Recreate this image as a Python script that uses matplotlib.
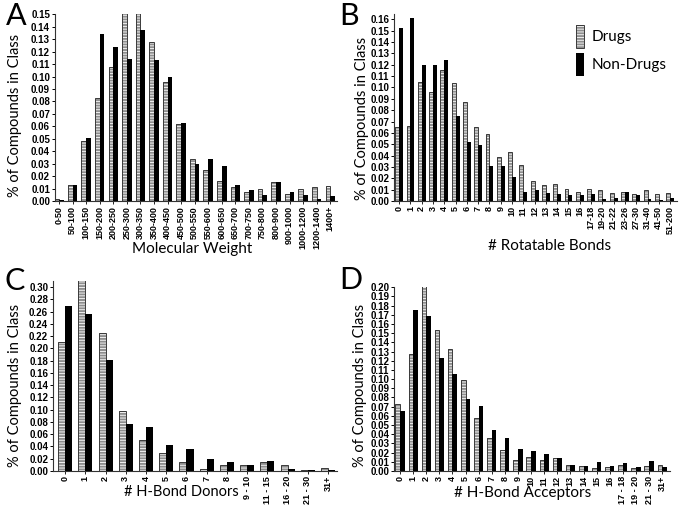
import numpy as np
import matplotlib
matplotlib.use("Agg")
import matplotlib.pyplot as plt

# ---- data (fraction of compounds per class) ----
mw_cats = ["0-50", "50-100", "100-150", "150-200", "200-250", "250-300", "300-350",
           "350-400", "400-450", "450-500", "500-550", "550-600", "600-650", "650-700",
           "700-750", "750-800", "800-900", "900-1000", "1000-1200", "1200-1400", "1400+"]
mw_drugs = [0.002, 0.013, 0.048, 0.083, 0.108, 0.160, 0.158, 0.128, 0.096, 0.062, 0.034,
            0.025, 0.016, 0.011, 0.007, 0.010, 0.015, 0.006, 0.010, 0.011, 0.012]
mw_nondrugs = [0.001, 0.013, 0.051, 0.134, 0.124, 0.114, 0.137, 0.113, 0.100, 0.063, 0.030,
               0.034, 0.028, 0.013, 0.009, 0.005, 0.015, 0.007, 0.005, 0.002, 0.004]

rb_cats = [str(i) for i in range(17)] + ["17-18", "19-20", "21-22", "23-26", "27-30",
                                         "31-40", "41-50", "51-200"]
rb_drugs = [0.065, 0.066, 0.105, 0.096, 0.115, 0.104, 0.087, 0.065, 0.059, 0.039, 0.043,
            0.032, 0.018, 0.014, 0.015, 0.011, 0.008, 0.011, 0.010, 0.007, 0.008, 0.006,
            0.010, 0.006, 0.007]
rb_nondrugs = [0.152, 0.161, 0.120, 0.120, 0.124, 0.075, 0.052, 0.049, 0.031, 0.031, 0.021,
               0.008, 0.010, 0.007, 0.006, 0.005, 0.005, 0.006, 0.002, 0.003, 0.008, 0.005,
               0.002, 0.001, 0.003]

hbd_cats = [str(i) for i in range(9)] + ["9 - 10", "11 - 15", "16 - 20", "21 - 30", "31+"]
hbd_drugs = [0.210, 0.330, 0.226, 0.098, 0.050, 0.029, 0.015, 0.004, 0.010, 0.009, 0.014,
             0.010, 0.002, 0.005]
hbd_nondrugs = [0.270, 0.257, 0.181, 0.077, 0.071, 0.043, 0.036, 0.019, 0.015, 0.010, 0.016,
                0.003, 0.002, 0.001]

hba_cats = [str(i) for i in range(17)] + ["17 - 18", "19 - 20", "21 - 30", "31+"]
hba_drugs = [0.073, 0.127, 0.205, 0.153, 0.133, 0.099, 0.058, 0.036, 0.023, 0.012, 0.015,
             0.012, 0.014, 0.006, 0.005, 0.003, 0.004, 0.006, 0.003, 0.005, 0.007]
hba_nondrugs = [0.065, 0.175, 0.169, 0.123, 0.106, 0.078, 0.071, 0.045, 0.036, 0.024, 0.022,
                0.018, 0.014, 0.007, 0.005, 0.010, 0.005, 0.009, 0.004, 0.011, 0.004]

plt.rcParams['hatch.linewidth'] = 0.6
LABEL_FONT = ['Lato', 'DejaVu Sans']
TICK_FONT = ['Liberation Sans', 'DejaVu Sans']

fig = plt.figure(figsize=(6.83, 5.09), dpi=100)


def panel(rect, cats, drugs, nondrugs, ymax, yticks, xlim):
    ax = fig.add_axes(rect)
    x = np.arange(len(cats))
    w = 0.35
    # drugs: grey bar with white horizontal stripes, dark outline
    b1 = ax.bar(x - w / 2, drugs, w, facecolor='#8e8e8e', edgecolor='white',
                hatch='------', linewidth=0)
    b2 = ax.bar(x - w / 2, drugs, w, fill=False, edgecolor='#3a3a3a', linewidth=0.7)
    b3 = ax.bar(x + w / 2, nondrugs, w, color='black', linewidth=0)
    ax.set_ylim(0, ymax)
    ax.set_xlim(*xlim)
    ax.set_yticks(yticks)
    ax.yaxis.set_major_formatter(matplotlib.ticker.FormatStrFormatter('%.2f'))
    ax.set_xticks(x)
    ax.set_xticklabels(cats, rotation=90)
    for sp in ('top', 'right'):
        ax.spines[sp].set_visible(False)
    for sp in ('left', 'bottom'):
        ax.spines[sp].set_linewidth(0.8)
        ax.spines[sp].set_color('#333333')
    ax.tick_params(axis='y', length=2.5, width=0.7, pad=1, labelsize=7)
    ax.tick_params(axis='x', length=2, width=0.6, pad=1.5, labelsize=6.5)
    for t in ax.get_xticklabels() + ax.get_yticklabels():
        t.set_fontfamily(TICK_FONT)
        t.set_fontweight('bold')
    return ax, (b1[0], b2[0]), b3[0]


axA, _, _ = panel([0.0805, 0.605, 0.413, 0.367], mw_cats, mw_drugs, mw_nondrugs,
                  0.15, np.arange(0, 0.1501, 0.01), (-0.3, 20.5))
axB, hd, hn = panel([0.577, 0.605, 0.414, 0.367], rb_cats, rb_drugs, rb_nondrugs,
                    0.1645, np.arange(0, 0.1601, 0.01), (-0.45, 24.6))
axC, _, _ = panel([0.0776, 0.0747, 0.416, 0.373], hbd_cats, hbd_drugs, hbd_nondrugs,
                  0.31, np.arange(0, 0.3001, 0.02), (-0.6, 13.45))
axD, _, _ = panel([0.577, 0.0747, 0.404, 0.361], hba_cats, hba_drugs, hba_nondrugs,
                  0.20, np.arange(0, 0.2001, 0.01), (-0.45, 20.6))

W, H = 683.0, 509.0


def ftext(px, py, s, **kw):
    fig.text(px / W, 1 - py / H, s, ha='center', va='center', family=LABEL_FONT, **kw)


# y labels
for px, py in [(15, 115), (362, 118), (15, 385), (360, 385)]:
    ftext(px, py, "% of Compounds in Class", rotation=90, fontsize=10.5)
# x labels
ftext(192, 249, "Molecular Weight", fontsize=11)
ftext(550, 246, "# Rotatable Bonds", fontsize=11)
ftext(181, 492, "# H-Bond Donors", fontsize=10.5)
ftext(523, 493, "# H-Bond Acceptors", fontsize=11)
# panel letters
for px, py, s in [(16, 16, "A"), (349, 16, "B"), (15, 281, "C"), (351, 280, "D")]:
    ftext(px, py, s, fontsize=22)

axB.legend([hd, hn], ["Drugs", "Non-Drugs"], loc='upper left',
           bbox_to_anchor=(576 / W, 1 - 25 / H), bbox_transform=fig.transFigure,
           frameon=False, handlelength=0.55, handleheight=1.9, handletextpad=0.5,
           labelspacing=0.35, borderpad=0, borderaxespad=0,
           prop={'family': LABEL_FONT, 'size': 11})

fig.savefig("out.png", dpi=100)
